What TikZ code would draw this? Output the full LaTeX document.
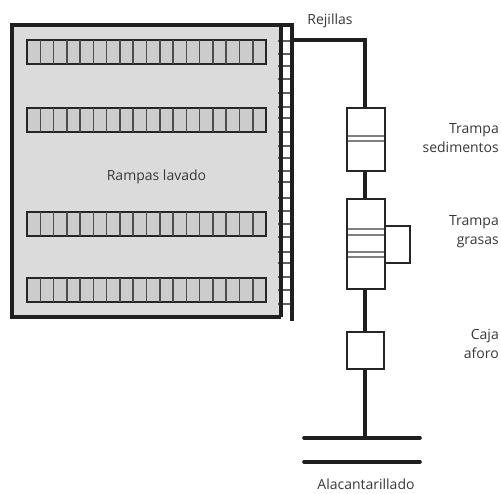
\documentclass[tikz,border=0pt]{standalone}
\usepackage{fontspec}
\setmainfont{Open Sans}
\tikzset{
  heavy/.style={draw=black!88,line width=3.6pt},
  pipe/.style={draw=black!88,line width=3.6pt,line cap=round},
  boxed/.style={draw=black!85,line width=2.2pt,fill=white},
  ramp/.style={draw=black!85,line width=2.1pt,fill=black!20},
  cell/.style={draw=black!70,line width=1.5pt},
  slat/.style={draw=black!62,line width=1.4pt},
  band/.style={draw=black!50,line width=1.2pt},
  label/.style={font=\fontsize{14}{19}\selectfont,text=black!78,align=center,inner sep=0pt},
  labelr/.style={font=\fontsize{14}{19}\selectfont,text=black!78,align=right,inner sep=0pt}
}
\begin{document}
\begin{tikzpicture}[x=1pt,y=-1pt]
\useasboundingbox (0,0) rectangle (501,493);
% main area
\path[fill=black!14] (12,25) rectangle (281,317);
% slats
\foreach \y in {41,54,66,79,93,107,118,132,146,158,171,182,198,211,224,237,252,263,277,290,304}
  \draw[slat] (278,\y) -- (291,\y);
\draw[heavy] (281,317) -- (12,317) -- (12,25) -- (292,25) -- (292,321);
\draw[heavy] (281,25) -- (281,317);
% ramps
\foreach \t/\b in {40/64,108/132,212/236,278/302}{
  \draw[ramp] (27,\t) rectangle (266,\b);
  \foreach \i in {1,...,17}
    \draw[cell] ({27+13.28*\i},\t) -- ({27+13.28*\i},\b);
}
% pipe
\coordinate (pipeStart) at (292,40);
\coordinate (pipeBend) at (365,40);
\coordinate (sedT) at (365,108);
\coordinate (sedB) at (365,171);
\coordinate (graT) at (365,199);
\coordinate (graB) at (365,289);
\coordinate (cajT) at (365,332);
\coordinate (cajB) at (365,369);
\coordinate (alc) at (365,438);
\draw[pipe] (pipeStart) -- (pipeBend) -- (sedT);
\draw[pipe] (sedB) -- (graT);
\draw[pipe] (graB) -- (cajT);
\draw[pipe] (cajB) -- (alc);
\draw[boxed] (347,108) rectangle (385,171);
\draw[band] (348,136) -- (384,136) (348,141) -- (384,141);
\draw[boxed] (385,226) rectangle (410,263);
\draw[boxed] (347,199) rectangle (385,289);
\draw[band] (348,229) -- (384,229) (348,235) -- (384,235) (348,252) -- (384,252) (348,257) -- (384,257);
\draw[boxed] (347,332) rectangle (384,369);
\draw[pipe] (304,438) -- (420,438);
\draw[pipe] (304,462) -- (420,462);
% labels
\node[label] (l1) at (156.5,176.5) {Rampas lavado};
\node[label] (l2) at (330,21) {Rejillas};
\node[labelr,anchor=east] (l3) at (499,138) {Trampa\\sedimentos};
\node[labelr,anchor=east] (l4) at (499,231.5) {Trampa\\grasas};
\node[labelr,anchor=east] (l5) at (499,343.5) {Caja\\aforo};
\node[label] (l6) at (366,484.5) {Alacantarillado};
\end{tikzpicture}
\end{document}
